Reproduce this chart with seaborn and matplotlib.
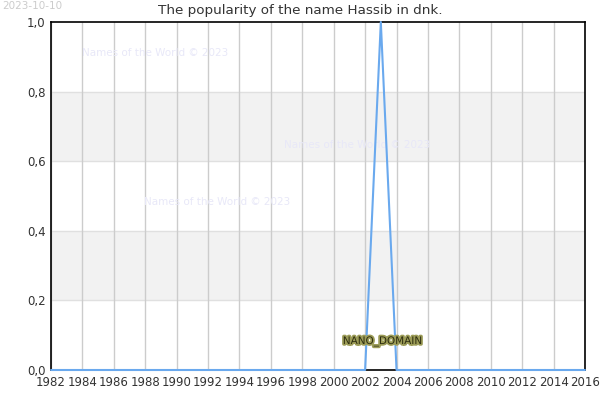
import numpy as np
import pandas as pd
import matplotlib
matplotlib.use("Agg")
import matplotlib.pyplot as plt
import matplotlib.patheffects as pe
from matplotlib import ticker
import seaborn as sns

# popularity of the name Hassib in dnk, one value per year
years = list(range(1982, 2017))
popularity = [0.0] * 21 + [1.0] + [0.0] * 13   # peak in 2003

x_ticks = list(range(1982, 2017, 2))
y_ticks = [0.0, 0.2, 0.4, 0.6, 0.8, 1.0]

df = pd.DataFrame({'year': years, 'popularity': popularity})

sns.set_style("white")
plt.rcParams['font.family'] = ['DejaVu Sans']

fig = plt.figure(figsize=(6, 4), dpi=100)
ax = fig.add_axes([0.085, 0.075, 0.89, 0.87])

# alternating grey bands
for lo, hi in [(0.2, 0.4), (0.6, 0.8)]:
    ax.axhspan(lo, hi, color='#f2f2f2', zorder=0, lw=0)
    ax.axhline(lo, color='#e0e0e0', lw=1, zorder=0.5)
    ax.axhline(hi, color='#e0e0e0', lw=1, zorder=0.5)

for xt in x_ticks:
    ax.axvline(xt, color='#cccccc', lw=1, zorder=0.6)

sns.lineplot(data=df, x='year', y='popularity', color='#6aa9ee', lw=1.5,
             ax=ax, zorder=5)
for ln in ax.get_lines()[-1:]:
    ln.set_clip_on(False)

ax.set_xlim(1982, 2016)
ax.set_ylim(0, 1)
ax.set_xticks(x_ticks)
ax.set_yticks(y_ticks)
ax.xaxis.set_major_formatter(ticker.FormatStrFormatter('%d'))
ax.yaxis.set_major_formatter(ticker.FuncFormatter(lambda v, p: f'{v:.1f}'.replace('.', ',')))
ax.tick_params(axis='both', labelsize=8.5, colors='#333333', length=0, pad=4)
ax.set_xlabel('')
ax.set_ylabel('')
for s in ax.spines.values():
    s.set_color('black')
    s.set_linewidth(1.2)
    s.set_zorder(4)

fig.text(0.5, 0.973, 'The popularity of the name Hassib in dnk.', fontsize=9.7,
         color='#333333', ha='center', va='center')

# watermarks
for wx, wy in [(1988.6, 0.911), (2001.5, 0.647), (1992.6, 0.483)]:
    ax.text(wx, wy, 'Names of the World © 2023', fontsize=7.5, color='#e8e8f8',
            ha='center', va='center', zorder=1)

ax.text(2003.1, 0.082, 'NANO_DOMAIN', fontsize=7.5, color='#2e2e10',
        ha='center', va='center', zorder=6,
        path_effects=[pe.withStroke(linewidth=2.5, foreground='#9c9c58')])

fig.text(0.003, 0.997, '2023-10-10', fontsize=7.5, color='#cccccc',
         ha='left', va='top')

fig.savefig('out.png', dpi=100)
